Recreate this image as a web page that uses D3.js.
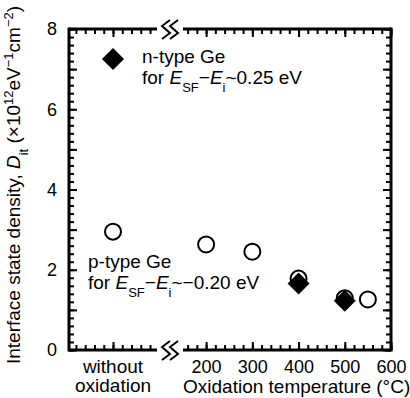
<!DOCTYPE html>
<html>
<head>
<meta charset="utf-8">
<script src="https://cdn.jsdelivr.net/npm/d3@7"></script>
<style>
  body { margin: 0; background: #fff; }
  text { font-family: Arial, "Liberation Sans", Helvetica, sans-serif; fill: #000; }
</style>
</head>
<body>
<div id="chart"></div>
<script>
// p-type Ge (open circles), "none" = without oxidation
var pTypeTemp = ["none", 200, 300, 400, 500, 550];
var pTypeDit = [2.95, 2.63, 2.45, 1.78, 1.29, 1.26];
// n-type Ge (filled diamonds)
var nTypeTemp = ["none", 400, 500];
var nTypeDit = [7.25, 1.66, 1.23];

var yTicks = [0, 2, 4, 6, 8];
var xTicks = [200, 300, 400, 500, 600];

var margin = { top: 29, right: 19, bottom: 48, left: 69 },
  width = 410 - margin.left - margin.right,
  height = 398 - margin.top - margin.bottom;

var svg = d3.select("#chart")
  .append("svg")
  .attr("width", 410)
  .attr("height", 398)
  .append("g")
  .attr("transform", "translate(" + margin.left + "," + margin.top + ")");

// y scale
var y = d3.scaleLinear().domain([0, 8]).range([height, 0]);

// broken x axis: left piece holds "without oxidation", right piece is temperature
var breakL = 88, breakR = 114;
var xLeft = d3.scaleLinear().domain([-95, 95]).range([0, breakL]);
var x = d3.scaleLinear().domain([150, 600]).range([breakR, width]);
var xPos = function (t) { return t === "none" ? xLeft(0) : x(t); };

var fs = 18;    // tick numbers
var fsT = 19;   // titles and notes
var fsS = 13;   // sub/superscripts

// minor + major ticks, pointing inward
function tickAxis(axis, g) {
  g.call(axis);
  g.select(".domain").remove();
  g.selectAll(".tick line").attr("stroke", "#000").attr("stroke-width", 2);
}
var yMinor = d3.range(0, 8.01, 0.2);
var yMajor = d3.range(0, 8.01, 1);

svg.append("g").call(function (g) {
  tickAxis(d3.axisLeft(y).tickValues(yMinor).tickSize(-5).tickFormat(""), g);
});
svg.append("g").call(function (g) {
  tickAxis(d3.axisLeft(y).tickValues(yMajor).tickSize(-8).tickFormat(""), g);
});
svg.append("g").attr("transform", "translate(" + width + ",0)").call(function (g) {
  tickAxis(d3.axisRight(y).tickValues(yMinor).tickSize(-5).tickFormat(""), g);
});
svg.append("g").attr("transform", "translate(" + width + ",0)").call(function (g) {
  tickAxis(d3.axisRight(y).tickValues(yMajor).tickSize(-8).tickFormat(""), g);
});

// y labels
var yl = svg.append("g").call(d3.axisLeft(y).tickValues(yTicks).tickSize(0).tickPadding(12));
yl.select(".domain").remove();
yl.selectAll("text").style("font-size", fs + "px").style("font-family", null);

// x ticks, top and bottom, both pieces
var xMinorR = d3.range(160, 600.1, 20), xMajorR = xTicks;
var xMinorL = d3.range(-80, 81, 20), xMajorL = [0];
[[0, "top"], [height, "bottom"]].forEach(function (p) {
  var mk = function (s) { return p[1] === "top" ? d3.axisTop(s) : d3.axisBottom(s); };
  var g = svg.append("g").attr("transform", "translate(0," + p[0] + ")");
  g.append("g").call(function (gg) { tickAxis(mk(xLeft).tickValues(xMinorL).tickSize(-5).tickFormat(""), gg); });
  g.append("g").call(function (gg) { tickAxis(mk(xLeft).tickValues(xMajorL).tickSize(-8).tickFormat(""), gg); });
  g.append("g").call(function (gg) { tickAxis(mk(x).tickValues(xMinorR).tickSize(-5).tickFormat(""), gg); });
  g.append("g").call(function (gg) { tickAxis(mk(x).tickValues(xMajorR).tickSize(-8).tickFormat(""), gg); });
});

// x labels
var xl = svg.append("g").attr("transform", "translate(0," + height + ")")
  .call(d3.axisBottom(x).tickValues(xTicks).tickSize(0).tickPadding(10));
xl.select(".domain").remove();
xl.selectAll("text").style("font-size", fs + "px").style("font-family", null);

svg.append("text").attr("x", xLeft(0)).attr("y", height + 23)
  .attr("text-anchor", "middle").style("font-size", fsT + "px").text("without");
svg.append("text").attr("x", xLeft(0)).attr("y", height + 42)
  .attr("text-anchor", "middle").style("font-size", fsT + "px").text("oxidation");
svg.append("text").attr("x", x(150)).attr("y", height + 43)
  .style("font-size", fsT + "px").text("Oxidation temperature (°C)");

// frame
var frame = svg.append("g").attr("fill", "none").attr("stroke", "#000").attr("stroke-width", 3);
frame.append("line").attr("x1", 0).attr("x2", 0).attr("y1", -1.5).attr("y2", height + 1.5);
frame.append("line").attr("x1", width).attr("x2", width).attr("y1", -1.5).attr("y2", height + 1.5);
[0, height].forEach(function (yy) {
  frame.append("line").attr("x1", 0).attr("x2", breakL).attr("y1", yy).attr("y2", yy);
  frame.append("line").attr("x1", breakR).attr("x2", width).attr("y1", yy).attr("y2", yy);
  // break marks
  [-4, 4].forEach(function (dx) {
    var cx = (breakL + breakR) / 2 + dx;
    svg.append("path")
      .attr("d", "M" + (cx + 4) + "," + (yy - 9) + " L" + (cx - 4) + "," + (yy - 3) +
        " L" + (cx + 4) + "," + (yy + 4) + " L" + (cx - 4) + "," + (yy + 10))
      .attr("fill", "none").attr("stroke", "#000").attr("stroke-width", 2);
  });
});

// y title
var title = svg.append("text")
  .attr("transform", "translate(" + (-49) + "," + 156 + ") rotate(-90)")
  .attr("text-anchor", "middle").style("font-size", fsT + "px");
title.append("tspan").text("Interface state density, ");
title.append("tspan").style("font-style", "italic").text("D");
title.append("tspan").attr("baseline-shift", "sub").style("font-size", fsS + "px").text("it");
title.append("tspan").text(" (×10");
title.append("tspan").attr("baseline-shift", "super").style("font-size", fsS + "px").text("12");
title.append("tspan").text("eV");
title.append("tspan").attr("baseline-shift", "super").style("font-size", fsS + "px").text("−1");
title.append("tspan").text("cm");
title.append("tspan").attr("baseline-shift", "super").style("font-size", fsS + "px").text("−2");
title.append("tspan").text(")");

// data: circles first, diamonds on top
svg.append("g").selectAll("circle")
  .data(pTypeTemp.map(function (t, i) { return { t: t, v: pTypeDit[i] }; }))
  .enter().append("circle")
  .attr("cx", function (d) { return xPos(d.t); })
  .attr("cy", function (d) { return y(d.v); })
  .attr("r", 8)
  .attr("fill", "#fff").attr("stroke", "#000").attr("stroke-width", 2);

svg.append("g").selectAll("path")
  .data(nTypeTemp.map(function (t, i) { return { t: t, v: nTypeDit[i] }; }))
  .enter().append("path")
  .attr("d", "M0,-11 L11,0 L0,11 L-11,0 Z")
  .attr("transform", function (d) { return "translate(" + xPos(d.t) + "," + y(d.v) + ")"; })
  .attr("fill", "#000");

// annotations
function note(x0, y0, type, val) {
  svg.append("text").attr("x", x0).attr("y", y0).style("font-size", fsT + "px").text(type);
  var t2 = svg.append("text").attr("x", x0).attr("y", y0 + 21).style("font-size", fsT + "px");
  t2.append("tspan").text("for ");
  t2.append("tspan").style("font-style", "italic").text("E");
  t2.append("tspan").attr("baseline-shift", "sub").style("font-size", fsS + "px").text("SF");
  t2.append("tspan").text("−");
  t2.append("tspan").style("font-style", "italic").text("E");
  t2.append("tspan").attr("baseline-shift", "sub").style("font-size", fsS + "px").text("i");
  t2.append("tspan").text("~" + val + " eV");
}
note(142 - margin.left, 63 - margin.top, "n-type Ge", "0.25");
note(88 - margin.left, 268 - margin.top, "p-type Ge", "−0.20");
</script>
</body>
</html>
